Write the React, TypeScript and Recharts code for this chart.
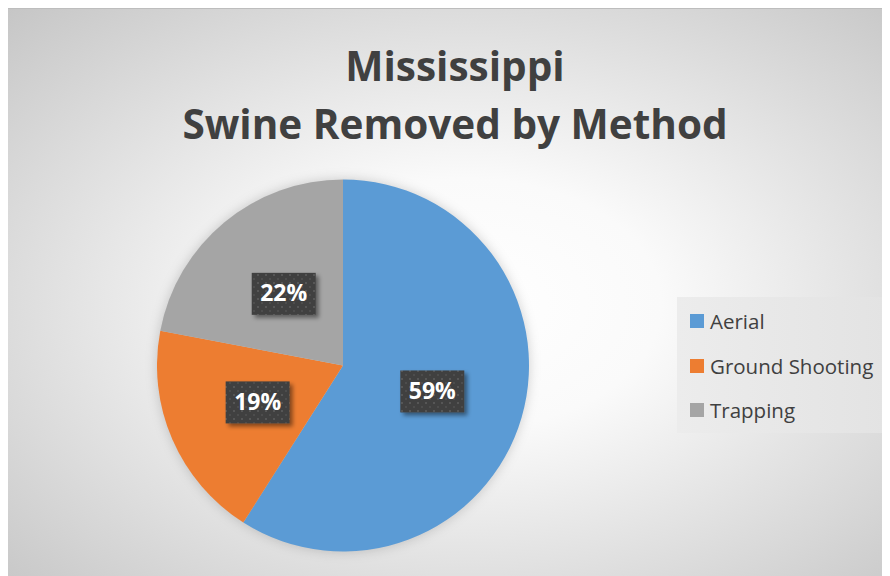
import { Legend, Pie, PieChart } from "recharts";

const categories = ["Aerial", "Ground Shooting", "Trapping"];
const shares = [59, 19, 22];
const colors = ["#5B9BD5", "#ED7D31", "#A5A5A5"];
const titleLines = ["Mississippi", "Swine Removed by Method"];

const data = categories.map((name, i) => ({
  name,
  value: shares[i],
  fill: colors[i],
}));

const RAD = Math.PI / 180;
const FONT = "'Open Sans', 'Noto Sans', sans-serif";

function renderLabel(props: any) {
  const { cx, cy, midAngle, outerRadius, percent } = props;
  const r = outerRadius * 0.5;
  const x = cx + r * Math.cos(-midAngle * RAD);
  const y = cy + r * Math.sin(-midAngle * RAD);
  const w = 64;
  const h = 42;
  return (
    <g>
      <rect
        x={x - w / 2}
        y={y - h / 2}
        width={w}
        height={h}
        fill="url(#dotPattern)"
        filter="url(#labelShadow)"
      />
      <text
        x={x}
        y={y + 1}
        textAnchor="middle"
        dominantBaseline="middle"
        fill="#ffffff"
        fontFamily={FONT}
        fontWeight={700}
        fontSize={23}
      >
        {`${Math.round(percent * 100)}%`}
      </text>
    </g>
  );
}

function renderLegend(props: any) {
  const { payload } = props;
  return (
    <div
      style={{
        width: 209,
        height: 136,
        boxSizing: "border-box",
        background: "linear-gradient(to right, #ececec, #e3e3e3)",
        paddingTop: 2,
        paddingLeft: 13,
        fontFamily: FONT,
        fontSize: 20.5,
        color: "#404040",
      }}
    >
      {(payload || []).map((item: any, i: number) => (
        <div
          key={i}
          style={{
            display: "flex",
            alignItems: "center",
            height: 44.5,
            whiteSpace: "nowrap",
          }}
        >
          <span
            style={{
              display: "inline-block",
              width: 14,
              height: 14,
              background: item.color,
              marginRight: 6,
            }}
          />
          <span>{item.value}</span>
        </div>
      ))}
    </div>
  );
}

export default function App() {
  return (
    <div
      style={{
        marginLeft: -1,
        width: 883,
        height: 568,
        boxSizing: "border-box",
        borderTop: "1px solid #bdbdbd",
        borderLeft: "1px solid #bdbdbd",
        background:
          "radial-gradient(ellipse farthest-corner at 52% 52%, #ffffff 0%, #fafafa 30%, #c6c6c6 100%)",
      }}
    >
      <style>{`.recharts-pie { filter: drop-shadow(0 0 6px rgba(0,0,0,0.18)); }`}</style>
      <PieChart
        width={882}
        height={567}
        margin={{ top: 0, right: 0, bottom: 0, left: 0 }}
      >
        <defs>
          <pattern
            id="dotPattern"
            width={8}
            height={8}
            patternUnits="userSpaceOnUse"
          >
            <rect width={8} height={8} fill="#404040" />
            <rect x={1} y={1} width={2} height={2} fill="#575757" />
            <rect x={5} y={5} width={2} height={2} fill="#4d4d4d" />
          </pattern>
          <filter id="labelShadow" x="-20%" y="-20%" width="150%" height="150%">
            <feDropShadow
              dx={3}
              dy={3}
              stdDeviation={2}
              floodColor="#000000"
              floodOpacity={0.45}
            />
          </filter>
        </defs>
        <text
          x={447}
          y={72}
          textAnchor="middle"
          fill="#404040"
          fontFamily={FONT}
          fontWeight={700}
          fontSize={40.5}
        >
          {titleLines[0]}
        </text>
        <text
          x={447}
          y={130}
          textAnchor="middle"
          fill="#404040"
          fontFamily={FONT}
          fontWeight={700}
          fontSize={40.5}
        >
          {titleLines[1]}
        </text>
        <Pie
          data={data}
          dataKey="value"
          nameKey="name"
          cx={335}
          cy={356.5}
          outerRadius={186}
          startAngle={90}
          endAngle={-270}
          stroke="none"
          label={renderLabel}
          labelLine={false}
          isAnimationActive={false}
        />
        <Legend
          layout="vertical"
          align="right"
          verticalAlign="top"
          wrapperStyle={{ left: 669, top: 288, width: 209, right: "auto" }}
          content={renderLegend}
        />
      </PieChart>
    </div>
  );
}
